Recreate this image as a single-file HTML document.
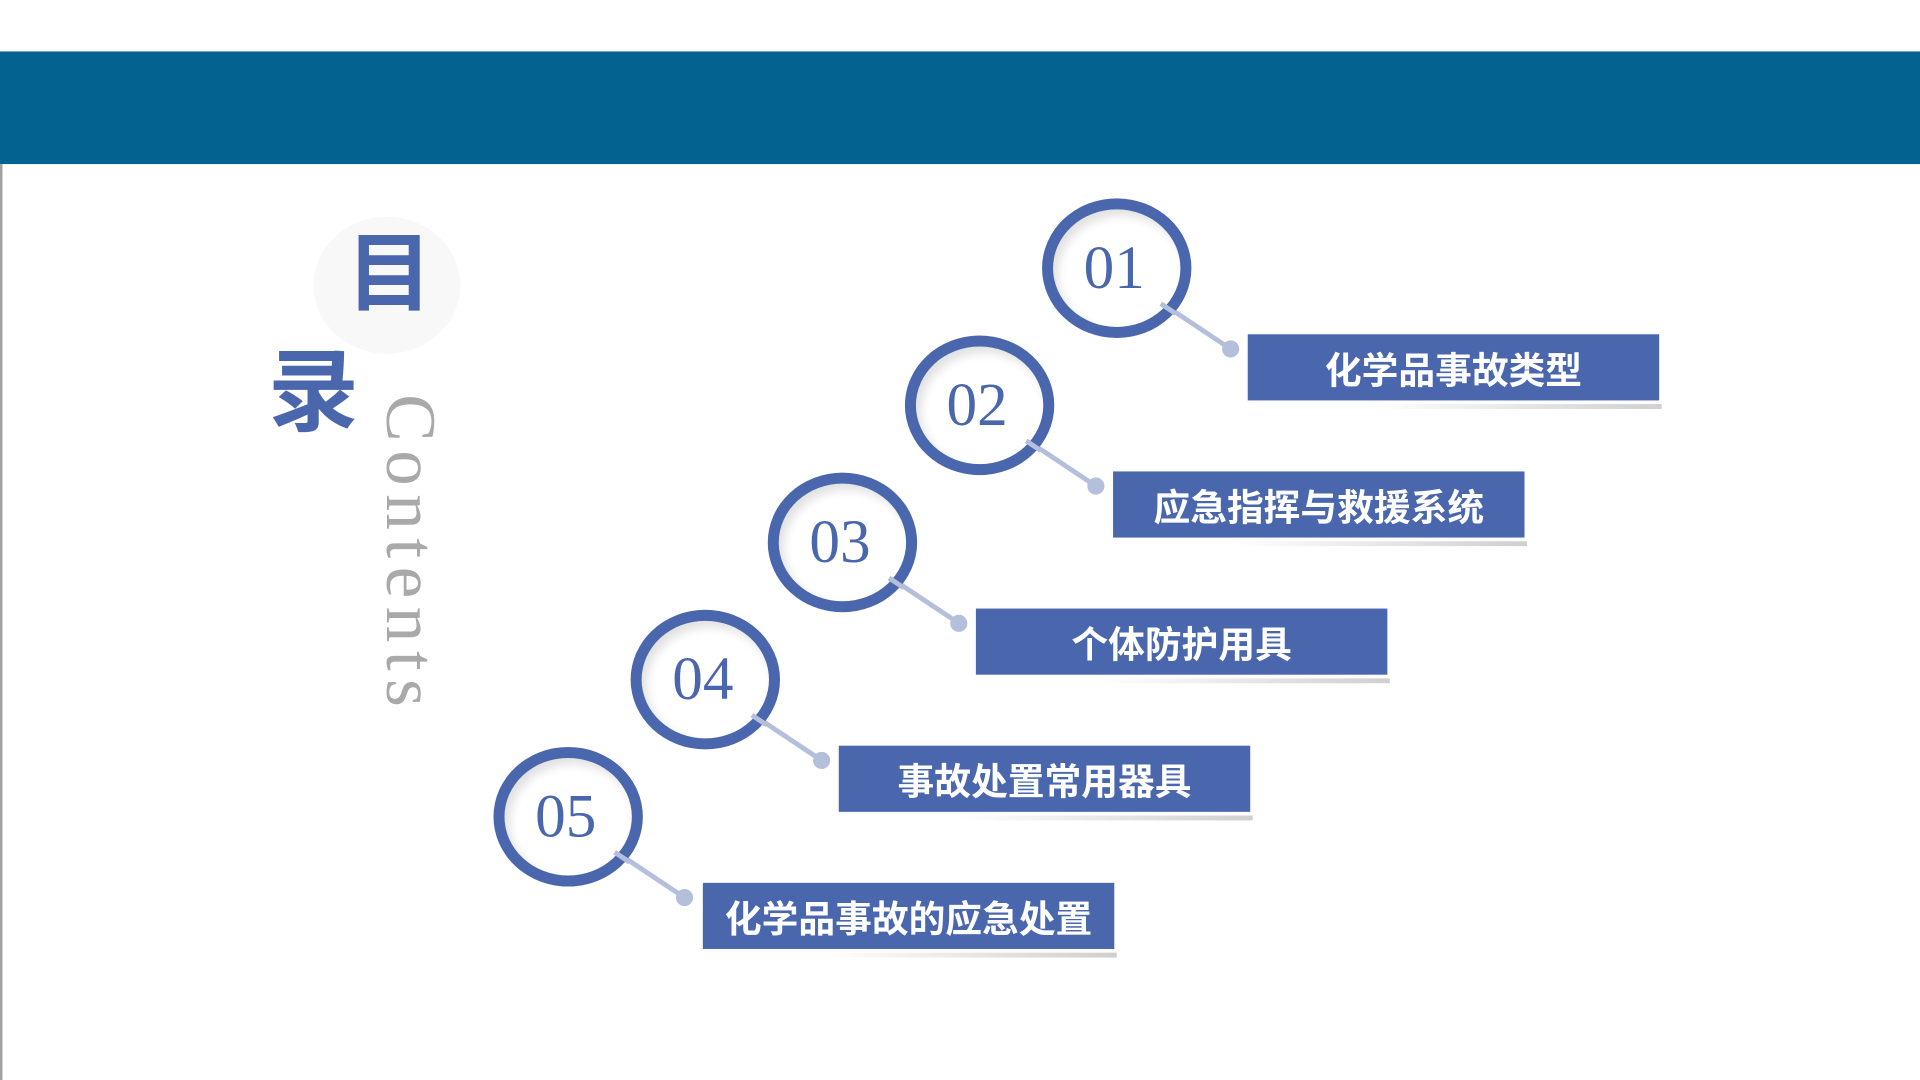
<!DOCTYPE html>
<html><head><meta charset="utf-8"><style>
html,body{margin:0;padding:0;width:1920px;height:1080px;overflow:hidden;background:#fff}
#s{position:absolute;left:0;top:0;width:1568px;height:882px;transform:scale(1.22449);transform-origin:0 0}
.a{position:absolute}
.ring{position:absolute;width:104px;height:96px;border:9px solid #4a67ae;border-radius:50%;background:#fff;box-shadow:inset 4px 5px 8px rgba(0,0,0,0.12)}
.num{position:absolute;width:122px;text-align:center;font:50px "Liberation Serif",serif;color:#4a67ae;line-height:1}
.box{position:absolute;width:336px;height:54px;background:#4a67ae;color:#fff;font:bold 30px "Liberation Sans","Noto Sans CJK SC",sans-serif;line-height:62px;text-align:center;box-shadow:0 0 3px rgba(0,0,0,0.05)}
.sh{position:absolute;height:4px;width:240px;background:linear-gradient(to right,rgba(200,200,200,0),#cfcfcf)}
</style></head><body><div id="s">
<div class="a" style="left:0;top:42px;width:1568px;height:92px;background:#03628f"></div>
<div class="a" style="left:0;top:134px;width:2px;height:748px;background:#a0a0a0"></div>
<div class="a" style="left:256px;top:177px;width:120px;height:112px;border-radius:50%;background:#f8f8f9"></div>
<div class="a" style="left:283px;top:189px;font:bold 70px 'Liberation Sans','Noto Sans CJK SC',sans-serif;color:#4a67ae;line-height:1">目</div>
<div class="a" style="left:219px;top:284px;font:bold 74px 'Liberation Sans','Noto Sans CJK SC',sans-serif;color:#4a67ae;line-height:1">录</div>
<div class="a" style="left:364px;top:322px;transform:rotate(90deg);transform-origin:0 0;font:58px 'Liberation Serif',serif;color:#a9a9a9;line-height:1;white-space:nowrap;letter-spacing:7px">Contents</div>

<svg class="a" style="left:0;top:0" width="1568" height="882">
<g stroke="#b4bfdc" stroke-width="4" fill="#b4bfdc">
<line x1="945" y1="245" x2="1005" y2="285"/><circle cx="1005" cy="285" r="5"/>
<line x1="835" y1="357" x2="895" y2="397"/><circle cx="895" cy="397" r="5"/>
<line x1="723" y1="469" x2="783" y2="509"/><circle cx="783" cy="509" r="5"/>
<line x1="611" y1="581" x2="671" y2="621"/><circle cx="671" cy="621" r="5"/>
<line x1="499" y1="693" x2="559" y2="733"/><circle cx="559" cy="733" r="5"/>
</g></svg>

<div class="ring" style="left:851px;top:162px"></div><div class="num" style="left:849px;top:193px">01</div>
<div class="ring" style="left:739px;top:274px"></div><div class="num" style="left:737px;top:305px">02</div>
<div class="ring" style="left:627px;top:386px"></div><div class="num" style="left:625px;top:417px">03</div>
<div class="ring" style="left:515px;top:498px"></div><div class="num" style="left:513px;top:529px">04</div>
<div class="ring" style="left:403px;top:610px"></div><div class="num" style="left:401px;top:641px">05</div>

<svg class="a" style="left:0;top:0" width="1568" height="882">
<g stroke="#b4bfdc" stroke-width="4">
<line x1="948" y1="248" x2="960" y2="256"/><line x1="838" y1="360" x2="850" y2="368"/><line x1="726" y1="472" x2="738" y2="480"/><line x1="614" y1="584" x2="626" y2="592"/><line x1="502" y1="696" x2="514" y2="704"/>
</g></svg>

<div class="sh" style="left:1117px;top:330px"></div><div class="box" style="left:1019px;top:273px">化学品事故类型</div>
<div class="sh" style="left:1007px;top:442px"></div><div class="box" style="left:909px;top:385px">应急指挥与救援系统</div>
<div class="sh" style="left:895px;top:554px"></div><div class="box" style="left:797px;top:497px">个体防护用具</div>
<div class="sh" style="left:783px;top:666px"></div><div class="box" style="left:685px;top:609px">事故处置常用器具</div>
<div class="sh" style="left:672px;top:778px"></div><div class="box" style="left:574px;top:721px">化学品事故的应急处置</div>
</div></body></html>
